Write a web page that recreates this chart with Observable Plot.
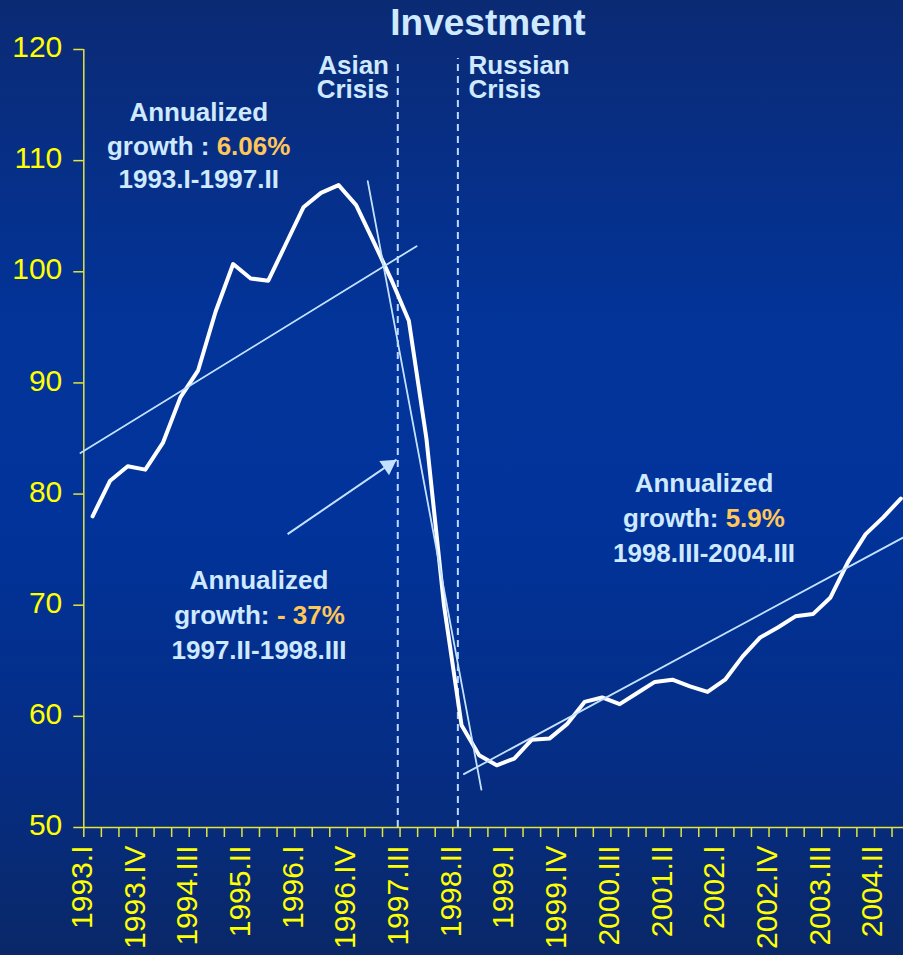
<!DOCTYPE html>
<html>
<head>
<meta charset="utf-8">
<script src="https://cdn.jsdelivr.net/npm/d3@7"></script>
<script src="https://cdn.jsdelivr.net/npm/@observablehq/plot@0.6"></script>
<style>
  html, body { margin: 0; padding: 0; }
  body {
    width: 903px; height: 955px; overflow: hidden; position: relative;
    background: linear-gradient(to bottom, #0b2a74 0%, #02349a 35%, #01339a 55%, #052d84 80%, #0a2868 100%);
  }
  #chart { position: absolute; left: 0; top: 0; }
  #title {
    position: absolute; top: 4px; left: 78px; width: 820px; text-align: center;
    font: bold 37px/37px "Liberation Sans", Arial, sans-serif; color: #cfe9ff;
  }
</style>
</head>
<body>
<div id="chart"></div>
<div id="title">Investment</div>
<script>
// Quarterly investment index, 1993.I – 2004.III
const years = d3.range(1993, 2005);
const romans = ["I", "II", "III", "IV"];
const quarters = years.flatMap(y => romans.map(r => `${y}.${r}`)).slice(0, 47);

const investment = [
  78.0, 81.2, 82.5, 82.2, 84.6, 88.7, 91.1, 96.4, 100.7, 99.4,
  99.2, 102.5, 105.8, 107.1, 107.8, 106.0, 102.7, 99.3, 95.6, 85.0,
  70.0, 59.2, 56.5, 55.6, 56.2, 57.9, 58.0, 59.3, 61.3, 61.7,
  61.1, 62.1, 63.1, 63.3, 62.7, 62.2, 63.3, 65.4, 67.1, 68.0,
  69.0, 69.2, 70.7, 73.9, 76.4, 77.9, 79.6
];

const yTicks = [50, 60, 70, 80, 90, 100, 110, 120];
const xTickLabels = [
  "1993.I", "1993.IV", "1994.III", "1995.II", "1996.I", "1996.IV", "1997.III", "1998.II",
  "1999.I", "1999.IV", "2000.III", "2001.II", "2002.I", "2002.IV", "2003.III", "2004.II"
];

// Fitted trend lines for the three phases (x in quarters from 1993.I)
const trendBoom = [{q: -0.19, v: 83.7}, {q: 18.94, v: 102.3}];
const trendCrash = [{q: 16.16, v: 108.15}, {q: 22.63, v: 53.4}];
const trendRecovery = [{q: 21.63, v: 54.8}, {q: 47, v: 76.4}];

// Crisis markers
const crises = [
  {q: 17.87, top: 118.9},
  {q: 21.29, top: 119.2}
];
const crisisText = [
  [17.37, 117.41, "Asian\nCrisis", "end"],
  [21.9, 117.41, "Russian\nCrisis", "start"]
];

// Pointer from the crash note to the crash trend
const pointer = {q1: 11.6, v1: 76.4, q2: 17.8, v2: 83.1};

// Growth notes: [q, v, text, anchor, tone]
const notes = [
  [6.54, 114.3, "Annualized", "middle", "text"],
  [7.15, 111.3, "growth :", "end", "text"],
  [7.56, 111.3, "6.06%", "start", "accent"],
  [6.54, 108.3, "1993.I-1997.II", "middle", "text"],

  [9.97, 72.2, "Annualized", "middle", "text"],
  [10.57, 69.07, "growth:", "end", "text"],
  [10.99, 69.07, "- 37%", "start", "accent"],
  [9.97, 65.9, "1997.II-1998.III", "middle", "text"],

  [35.3, 80.9, "Annualized", "middle", "text"],
  [36.12, 77.77, "growth:", "end", "text"],
  [36.53, 77.77, "5.9%", "start", "accent"],
  [35.3, 74.6, "1998.III-2004.III", "middle", "text"]
];

const FONT = '"Liberation Sans", Arial, sans-serif';
const YELLOW = "#ffff00";
const AXIS = "#e4e43c";
const LIGHT = "#cfe9ff";
const ACCENT = "#ffc65a";
const TREND = "#c4e2ff";

const W = 903, H = 955, mL = 83.3, mT = 49, mB = 128;
const xRange = [mL, mL + 47 * 17.57];
const kx = (xRange[1] - xRange[0]) / 47;
const ky = (H - mB - mT) / 70;

// Arrowhead orientation in screen space
const pdx = (pointer.q2 - pointer.q1) * kx;
const pdy = -(pointer.v2 - pointer.v1) * ky;
const plen = Math.hypot(pdx, pdy);
const ux = pdx / plen, uy = pdy / plen;
const headAngle = Math.atan2(ux, -uy) * 180 / Math.PI;

const textMarks = [];
for (const anchor of ["middle", "start", "end"]) {
  for (const tone of ["text", "accent"]) {
    const rows = notes.filter(d => d[3] === anchor && d[4] === tone);
    if (!rows.length) continue;
    textMarks.push(Plot.text(rows, {
      x: d => d[0], y: d => d[1], text: d => d[2],
      textAnchor: anchor, fill: tone === "accent" ? ACCENT : LIGHT,
      fontSize: 26, fontWeight: "bold", fontFamily: FONT
    }));
  }
}
for (const anchor of ["start", "end"]) {
  textMarks.push(Plot.text(crisisText.filter(d => d[3] === anchor), {
    x: d => d[0], y: d => d[1], text: d => d[2], lineHeight: 0.935,
    textAnchor: anchor, fill: LIGHT, fontSize: 26, fontWeight: "bold", fontFamily: FONT
  }));
}

const chart = Plot.plot({
  width: W, height: H,
  marginLeft: mL, marginRight: 0, marginTop: mT, marginBottom: mB,
  style: {background: "transparent", fontFamily: FONT, overflow: "hidden"},
  x: {domain: [0, 47], range: xRange},
  y: {domain: [50, 120]},
  marks: [
    // axes
    Plot.axisY(yTicks, {tickSize: 10, tickFormat: () => "", stroke: AXIS, strokeWidth: 1.5, label: null}),
    Plot.axisX(d3.range(47), {tickSize: 10, tickFormat: () => "", stroke: AXIS, strokeWidth: 1.5, label: null}),
    Plot.ruleX([0], {y1: 50, y2: 120, stroke: AXIS, strokeWidth: 1.5}),
    Plot.ruleY([50], {x1: 0, x2: 47, stroke: AXIS, strokeWidth: 1.5}),
    Plot.text(yTicks, {
      y: d => d, text: d => String(d), frameAnchor: "left", textAnchor: "end",
      dx: -21.5, dy: -2, fontSize: 30, fill: YELLOW, fontFamily: FONT
    }),
    Plot.text(xTickLabels, {
      x: d => quarters.indexOf(d), text: d => d, frameAnchor: "bottom",
      rotate: -90, textAnchor: "end", dy: 18, dx: 8,
      fontSize: 30, fill: YELLOW, fontFamily: FONT
    }),

    // crisis markers
    Plot.ruleX(crises, {x: "q", y1: 50, y2: "top", stroke: "#bcd9ff", strokeWidth: 2, strokeDasharray: "7,5"}),

    // investment series
    Plot.line(investment, {
      x: (d, i) => i + 0.5, y: d => d,
      stroke: "#ffffff", strokeWidth: 4, strokeLinejoin: "round"
    }),

    // trends
    Plot.line(trendBoom, {x: "q", y: "v", stroke: TREND, strokeWidth: 1.8}),
    Plot.line(trendCrash, {x: "q", y: "v", stroke: TREND, strokeWidth: 1.8}),
    Plot.line(trendRecovery, {x: "q", y: "v", stroke: TREND, strokeWidth: 1.8}),

    // pointer arrow
    Plot.link([pointer], {x1: "q1", y1: "v1", x2: "q2", y2: "v2", stroke: TREND, strokeWidth: 2}),
    Plot.dot([pointer], {
      x: "q2", y: "v2", symbol: "triangle", r: 6.4, fill: TREND, stroke: "none",
      rotate: headAngle, dx: -10 * ux, dy: -10 * uy
    }),

    ...textMarks
  ]
});

document.getElementById("chart").appendChild(chart);
</script>
</body>
</html>
